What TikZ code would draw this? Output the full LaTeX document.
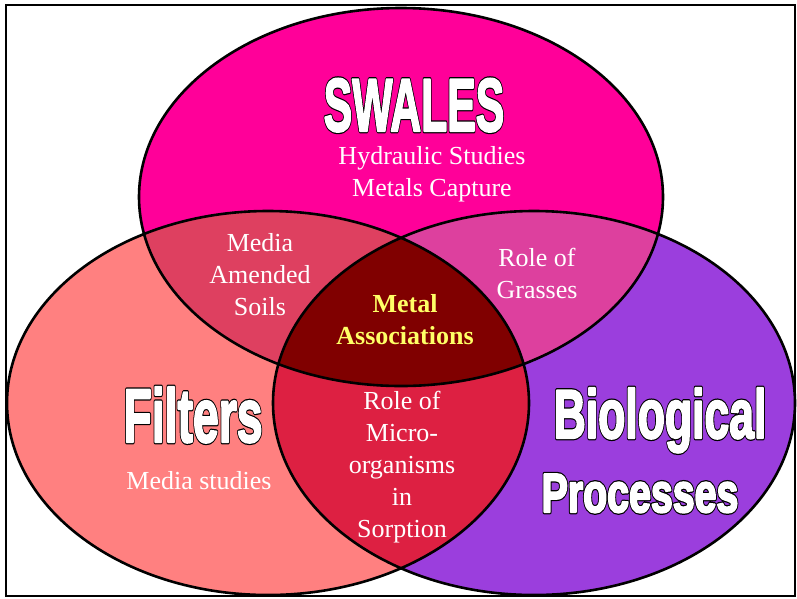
\documentclass[tikz,border=0pt]{standalone}
\usepackage{fontspec}
\setmainfont{Liberation Serif}
\newfontfamily\impactish{Liberation Sans}
\definecolor{swale}{RGB}{255,0,153}
\definecolor{filter}{RGB}{255,128,128}
\definecolor{bio}{RGB}{155,62,221}
\definecolor{swaleflt}{RGB}{222,64,96}
\definecolor{swalebio}{RGB}{221,64,158}
\definecolor{fltbio}{RGB}{221,32,66}
\definecolor{core}{RGB}{128,0,0}
\definecolor{metalyel}{RGB}{255,255,102}
% heavy white letters with a thin black rim
\newcommand{\hollow}[2]{\scalebox{#1}[1]{\rlap{\special{pdf:literal direct 0 G 0 g 4.8 w 1 j 2 Tr}#2}\special{pdf:literal direct 1 G 1 g 2.3 w 1 j 2 Tr}#2}}
\def\topE{(401,197) ellipse (262 and 189)}
\def\leftE{(268,403) ellipse (261 and 192)}
\def\rightE{(534,403) ellipse (261 and 192)}

\begin{document}
\begin{tikzpicture}[x=1pt,y=-1pt,
  txt/.style={text=white,align=center,font=\fontsize{26}{32}\selectfont},
  head/.style={text=white,anchor=base,inner sep=0pt}]
\useasboundingbox (0,0) rectangle (797,598);
\fill[white] (0,0) rectangle (797,598);
% the three sets
\fill[swale] \topE; \fill[filter] \leftE; \fill[bio] \rightE;
\begin{scope}\clip \leftE; \fill[swaleflt] \topE; \end{scope}
\begin{scope}\clip \rightE; \fill[swalebio] \topE; \end{scope}
\begin{scope}\clip \leftE; \fill[fltbio] \rightE; \end{scope}
\begin{scope}\clip \leftE; \clip \rightE; \fill[core] \topE; \end{scope}
\draw[line width=2.6pt] \topE; \draw[line width=2.6pt] \leftE; \draw[line width=2.6pt] \rightE;
\draw[line width=2pt] (6,5) rectangle (795,596);
% headings
\node[head,font=\impactish\bfseries\fontsize{75}{75}\selectfont] (swales) at (414,131) {\hollow{0.57}{SWALES}};
\node[head,font=\impactish\bfseries\fontsize{76}{76}\selectfont] (filters) at (193,442) {\hollow{0.61}{Filters}};
\node[head,font=\impactish\bfseries\fontsize{69}{69}\selectfont] (biological) at (660,438) {\hollow{0.645}{Biological}};
\node[head,font=\impactish\bfseries\fontsize{55}{55}\selectfont] (processes) at (640,512) {\hollow{0.715}{Processes}};
% contents
\node[txt] (hydraulic) at (432,174) {Hydraulic Studies\\Metals Capture};
\node[txt] (media) at (260,275) {Media\\Amended\\Soils};
\node[txt] (grasses) at (537,273) {Role of\\Grasses};
\node[txt,text=metalyel,font=\bfseries\fontsize{26}{32}\selectfont] (metal) at (405,320) {Metal\\Associations};
\node[txt] (mediastudies) at (199,481) {Media studies};
\node[txt] (microbes) at (402,467) {Role of\\Micro-\\organisms\\in\\Sorption};
\end{tikzpicture}
\end{document}
